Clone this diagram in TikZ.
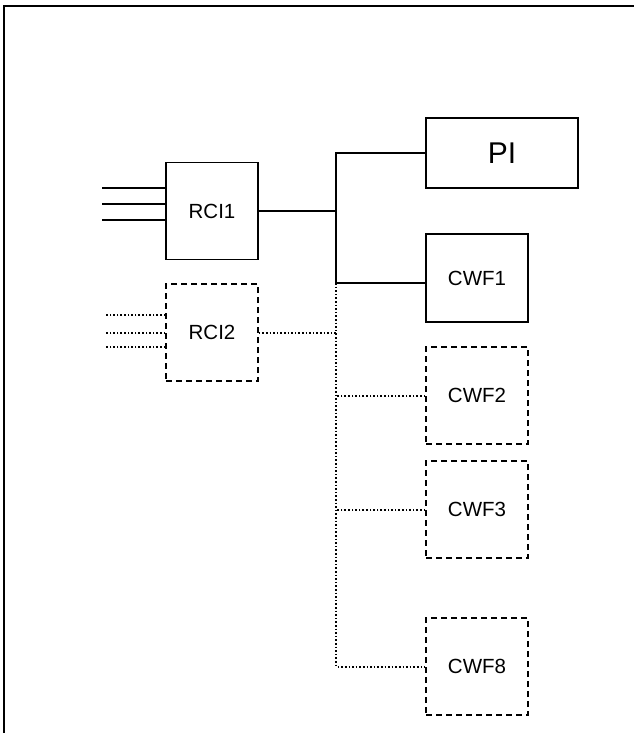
\documentclass[tikz,border=0pt]{standalone}
\usepackage{fontspec}
\setmainfont{Liberation Sans}
\usetikzlibrary{positioning}

\begin{document}
\begin{tikzpicture}[
    x=1pt, y=-1pt,
    unit/.style={
        draw, rectangle, line width=1.5pt,
        align=center, font=\fontsize{20.5}{24}\selectfont,
        minimum width=92pt, minimum height=97pt, inner sep=0pt
    },
    spare/.style={unit, dash pattern=on 6pt off 4pt},
    conn/.style={line width=1.3pt},
    dotconn/.style={line width=2pt, dash pattern=on 1.6pt off 2pt}
]

\useasboundingbox (0,0) rectangle (634,733);
\draw[line width=1.6pt] (4,740) -- (4,6) -- (640,6);

\node[unit] (rci1) at (212,211) {RCI1};
\node[spare] (rci2) at (212,332.5) {RCI2};

\node[unit, minimum width=152pt, minimum height=70pt,
      font=\fontsize{30}{34}\selectfont] (pi) at (502,153) {PI};

\node[unit, minimum width=102pt, minimum height=88pt] (cwf1) at (477,278) {CWF1};
\node[spare, minimum width=102pt] (cwf2) at (477,395.5) {CWF2};
\node[spare, minimum width=102pt] (cwf3) at (477,509.5) {CWF3};
\node[spare, minimum width=102pt] (cwf8) at (477,666.5) {CWF8};

\coordinate (bus) at (336,211);

% inputs
\foreach \d in {23,7,-9}
    \draw[conn] ([yshift=\d pt]rci1.west) -- ++(-63,0);
\foreach \d in {18,0,-14}
    \draw[dotconn] ([yshift=\d pt]rci2.west) -- ++(-59,0);

% solid links
\draw[conn] (rci1.east) -- (bus);
\draw[conn] (pi.west) -- (pi.west -| bus) |- ([yshift=-5pt]cwf1.west);

% spare links
\draw[dotconn] ([yshift=-5pt]cwf1.west -| bus) |- (cwf8.west);
\draw[dotconn] (rci2.east) -- (rci2.east -| bus);
\draw[dotconn] (cwf2.west) -- (cwf2.west -| bus);
\draw[dotconn] (cwf3.west) -- (cwf3.west -| bus);

\end{tikzpicture}
\end{document}
